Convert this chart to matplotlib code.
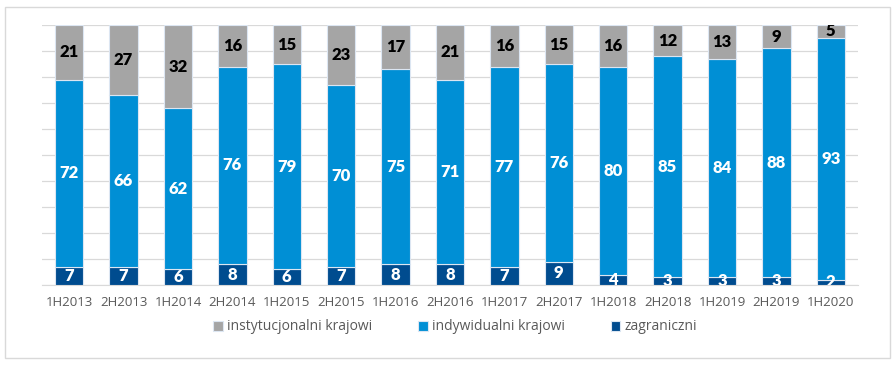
import numpy as np
import matplotlib
matplotlib.use("Agg")
from matplotlib import pyplot as plt
from matplotlib.patches import Rectangle

periods = ["1H2013", "2H2013", "1H2014", "2H2014", "1H2015", "2H2015", "1H2016",
           "2H2016", "1H2017", "2H2017", "1H2018", "2H2018", "1H2019", "2H2019", "1H2020"]
zagraniczni = [7, 7, 6, 8, 6, 7, 8, 8, 7, 9, 4, 3, 3, 3, 2]
indywidualni = [72, 66, 62, 76, 79, 70, 75, 71, 77, 76, 80, 85, 84, 88, 93]
instytucjonalni = [21, 27, 32, 16, 15, 23, 17, 21, 16, 15, 16, 12, 13, 9, 5]

plt.rcParams['font.family'] = ['Open Sans', 'DejaVu Sans']

fig = plt.figure(figsize=(8.95, 3.65), dpi=100)
# light outer frame like the source chart box
fig.patches.append(Rectangle((5 / 895, 1 - 358 / 365), 885 / 895, 351 / 365,
                             transform=fig.transFigure, fill=False,
                             edgecolor="#D9D9D9", linewidth=1))
ax = fig.add_axes([42 / 895, 1 - 285 / 365, 816 / 895, 260 / 365])

x = np.arange(len(periods))
w = 0.52
zag = np.array(zagraniczni)
ind = np.array(indywidualni)
ins = np.array(instytucjonalni)

series = [
    (zag, np.zeros(len(x)), "#004C8F", "white", "zagraniczni"),
    (ind, zag, "#008FD5", "white", "indywidualni krajowi"),
    (ins, zag + ind, "#A5A5A5", "black", "instytucjonalni krajowi"),
]
bars = {}
for vals, bottom, col, tcol, name in series:
    b = ax.bar(x, vals, w, bottom=bottom, color=col, edgecolor="#DCE6F2",
               linewidth=0.8, zorder=3, label=name)
    bars[name] = b
    for xi, v, bt in zip(x, vals, bottom):
        ax.text(xi, bt + v / 2, str(v), ha="center", va="center", color=tcol,
                fontsize=12, fontweight="heavy", family=["Lato", "DejaVu Sans"],
                zorder=4, clip_on=True)

ax.set_xlim(-0.5, len(x) - 0.5)
ax.set_ylim(0, 100)
ax.set_yticks(np.arange(0, 101, 10))
ax.yaxis.grid(True, color="#D9D9D9", linewidth=0.9, zorder=0)
ax.set_axisbelow(True)
ax.tick_params(axis="y", left=False, labelleft=False)
ax.tick_params(axis="x", length=0, pad=8, labelsize=9.5, labelcolor="#595959")
ax.set_xticks(x)
ax.set_xticklabels(periods)
for s in ["top", "right", "left"]:
    ax.spines[s].set_visible(False)
ax.spines["bottom"].set_color("#D9D9D9")

handles = [bars["instytucjonalni krajowi"], bars["indywidualni krajowi"], bars["zagraniczni"]]
labels = ["instytucjonalni krajowi", "indywidualni krajowi", "zagraniczni"]
fig.legend(handles, labels, loc="center", bbox_to_anchor=(455 / 895, 1 - 327 / 365),
           ncol=3, frameon=False, fontsize=10, handlelength=0.7, handleheight=0.7,
           handletextpad=0.3, columnspacing=3.3, labelcolor="#595959")

fig.savefig("out.png", dpi=100)
